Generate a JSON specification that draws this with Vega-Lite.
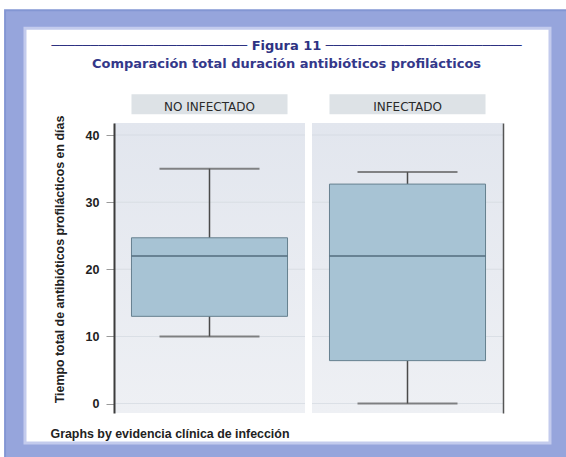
{
  "$schema": "https://vega.github.io/schema/vega-lite/v6.json",
  "width": 389,
  "height": 290,
  "autosize": {"type": "none"},
  "padding": {"left": 114, "top": 123, "right": 63, "bottom": 44},
  "background": "#ffffff",
  "config": {"view": {"stroke": null}, "font": "Liberation Sans"},
  "title": {
    "text": "───────────────────────── Figura 11 ─────────────────────────",
    "subtitle": "Comparación total duración antibióticos profilácticos",
    "anchor": "middle",
    "frame": "group",
    "font": "DejaVu Sans",
    "fontSize": 13,
    "fontWeight": "bold",
    "color": "#2d3282",
    "subtitleFont": "DejaVu Sans",
    "subtitleFontSize": 13,
    "subtitleFontWeight": "bold",
    "subtitleColor": "#34388a",
    "subtitlePadding": 5,
    "dx": -22,
    "dy": 62,
    "offset": 0
  },
  "datasets": {
    "stats": [
      {"grupo": "NO INFECTADO", "min": 10, "q1": 13, "mediana": 22, "q3": 24.7, "max": 35},
      {"grupo": "INFECTADO", "min": 0, "q1": 6.4, "mediana": 22, "q3": 32.7, "max": 34.5}
    ],
    "rejilla": [
      {"grupo": "NO INFECTADO", "valor": 0},
      {"grupo": "NO INFECTADO", "valor": 10},
      {"grupo": "NO INFECTADO", "valor": 20},
      {"grupo": "NO INFECTADO", "valor": 30},
      {"grupo": "NO INFECTADO", "valor": 40},
      {"grupo": "INFECTADO", "valor": 0},
      {"grupo": "INFECTADO", "valor": 10},
      {"grupo": "INFECTADO", "valor": 20},
      {"grupo": "INFECTADO", "valor": 30},
      {"grupo": "INFECTADO", "valor": 40}
    ]
  },
  "layer": [
    {
      "data": {"values": [{"marco": "fondo"}]},
      "layer": [
        {
          "mark": {"type": "rect", "fill": "#96a5dc", "stroke": "#8396d3", "strokeWidth": 2},
          "encoding": {
            "x": {"datum": -0.28, "type": "quantitative", "scale": {"domain": [0, 1], "nice": false, "zero": false}, "axis": null},
            "x2": {"datum": 1.17},
            "y": {"datum": 58.6, "type": "quantitative", "scale": {"domain": [-1.4, 41.8], "nice": false, "zero": false}, "axis": null},
            "y2": {"datum": -8.5}
          }
        },
        {
          "mark": {"type": "rect", "fill": "#ffffff", "stroke": "#c3cbed", "strokeWidth": 3},
          "encoding": {
            "x": {"datum": -0.2288, "type": "quantitative", "scale": {"domain": [0, 1], "nice": false, "zero": false}, "axis": null},
            "x2": {"datum": 1.1208},
            "y": {"datum": 55.93, "type": "quantitative", "scale": {"domain": [-1.4, 41.8], "nice": false, "zero": false}, "axis": null},
            "y2": {"datum": -5.88}
          }
        }
      ]
    },
    {
      "data": {"name": "stats"},
      "resolve": {"axis": {"x": "independent", "y": "independent"}},
      "layer": [
        {
          "mark": {"type": "bar", "color": {"gradient": "linear", "x1": 0, "y1": 0, "x2": 0, "y2": 1, "stops": [{"offset": 0, "color": "#e2e6ee"}, {"offset": 1, "color": "#eef0f4"}]}},
          "encoding": {
            "x": {"field": "grupo", "type": "nominal", "sort": ["NO INFECTADO", "INFECTADO"], "scale": {"type": "band", "paddingInner": 0.0354, "paddingOuter": 0}, "axis": null},
            "y": {"datum": -1.4, "type": "quantitative", "scale": {"domain": [-1.4, 41.8], "nice": false, "zero": false}, "axis": null},
            "y2": {"datum": 41.8}
          }
        },
        {
          "data": {"name": "rejilla"},
          "mark": {"type": "tick", "color": "#d3d8e0", "thickness": 1},
          "encoding": {
            "x": {"field": "grupo", "type": "nominal", "sort": ["NO INFECTADO", "INFECTADO"], "scale": {"type": "band", "paddingInner": 0.0354, "paddingOuter": 0}, "axis": null},
            "y": {"field": "valor", "type": "quantitative", "scale": {"domain": [-1.4, 41.8], "nice": false, "zero": false}, "axis": null},
            "size": {"value": 191}
          }
        },
        {
          "mark": {"type": "rule", "color": "#4a4a4a", "strokeWidth": 1.5},
          "encoding": {
            "x": {"field": "grupo", "type": "nominal", "sort": ["NO INFECTADO", "INFECTADO"], "scale": {"type": "band", "paddingInner": 0.0354, "paddingOuter": 0},
              "axis": {"orient": "bottom", "zindex": 2, "title": "Graphs by evidencia clínica de infección", "labels": false, "ticks": false, "domain": false, "grid": false, "titleX": -64, "titleY": 20, "titleAlign": "left", "titleBaseline": "middle", "titleFont": "Liberation Sans", "titleFontSize": 12.4, "titleFontWeight": "bold", "titleColor": "#222222"}},
            "y": {"field": "min", "type": "quantitative", "scale": {"domain": [-1.4, 41.8], "nice": false, "zero": false}, "axis": null},
            "y2": {"field": "max"}
          }
        },
        {
          "mark": {"type": "bar", "fill": "#a7c3d4", "stroke": "#66808f", "strokeWidth": 1, "width": {"band": 0.817}},
          "encoding": {
            "x": {"field": "grupo", "type": "nominal", "sort": ["NO INFECTADO", "INFECTADO"], "scale": {"type": "band", "paddingInner": 0.0354, "paddingOuter": 0}, "axis": null},
            "y": {"field": "q1", "type": "quantitative", "scale": {"domain": [-1.4, 41.8], "nice": false, "zero": false},
              "axis": {"orient": "left", "zindex": 2, "title": "Tiempo total de antibióticos profilácticos en días", "values": [0, 10, 20, 30, 40], "grid": false, "domainColor": "#3c3c3c", "domainWidth": 2, "tickColor": "#9a9a9a", "tickSize": 8, "labelPadding": 7, "labelFont": "Liberation Sans", "labelFontSize": 12.5, "labelFontWeight": "bold", "labelColor": "#222222", "titleFont": "Liberation Sans", "titleFontSize": 12.4, "titleFontWeight": "bold", "titleColor": "#222222", "titleX": -55, "titleY": 136, "titleAngle": -90, "titleBaseline": "middle", "titleAlign": "center"}},
            "y2": {"field": "q3"}
          }
        },
        {
          "mark": {"type": "tick", "color": "#4d6677", "thickness": 2},
          "encoding": {
            "x": {"field": "grupo", "type": "nominal", "sort": ["NO INFECTADO", "INFECTADO"], "scale": {"type": "band", "paddingInner": 0.0354, "paddingOuter": 0}, "axis": null},
            "y": {"field": "mediana", "type": "quantitative", "scale": {"domain": [-1.4, 41.8], "nice": false, "zero": false}, "axis": null},
            "size": {"value": 156}
          }
        },
        {
          "mark": {"type": "tick", "color": "#555555", "thickness": 2},
          "encoding": {
            "x": {"field": "grupo", "type": "nominal", "sort": ["NO INFECTADO", "INFECTADO"], "scale": {"type": "band", "paddingInner": 0.0354, "paddingOuter": 0}, "axis": null},
            "y": {"field": "min", "type": "quantitative", "scale": {"domain": [-1.4, 41.8], "nice": false, "zero": false}, "axis": null},
            "size": {"value": 100}
          }
        },
        {
          "mark": {"type": "tick", "color": "#555555", "thickness": 2},
          "encoding": {
            "x": {"field": "grupo", "type": "nominal", "sort": ["NO INFECTADO", "INFECTADO"], "scale": {"type": "band", "paddingInner": 0.0354, "paddingOuter": 0}, "axis": null},
            "y": {"field": "max", "type": "quantitative", "scale": {"domain": [-1.4, 41.8], "nice": false, "zero": false},
              "axis": {"orient": "right", "zindex": 2, "title": null, "labels": false, "ticks": false, "grid": false, "domainColor": "#555555", "domainWidth": 1.5}},
            "size": {"value": 100}
          }
        },
        {
          "mark": {"type": "bar", "fill": "#dde2e6", "width": {"band": 0.817}},
          "encoding": {
            "x": {"field": "grupo", "type": "nominal", "sort": ["NO INFECTADO", "INFECTADO"], "scale": {"type": "band", "paddingInner": 0.0354, "paddingOuter": 0},
              "axis": {"orient": "top", "zindex": 2, "title": null, "domain": false, "ticks": false, "tickSize": 0, "grid": false, "labelPadding": 17, "labelBaseline": "middle", "labelAngle": 0, "labelFont": "DejaVu Sans", "labelFontSize": 12, "labelFontWeight": "normal", "labelColor": "#2a2a2a"}},
            "y": {"datum": 43.1, "type": "quantitative", "scale": {"domain": [-1.4, 41.8], "nice": false, "zero": false}, "axis": null},
            "y2": {"datum": 46.1}
          }
        }
      ]
    }
  ],
  "resolve": {"scale": {"x": "independent"}, "axis": {"x": "independent", "y": "independent"}}
}
